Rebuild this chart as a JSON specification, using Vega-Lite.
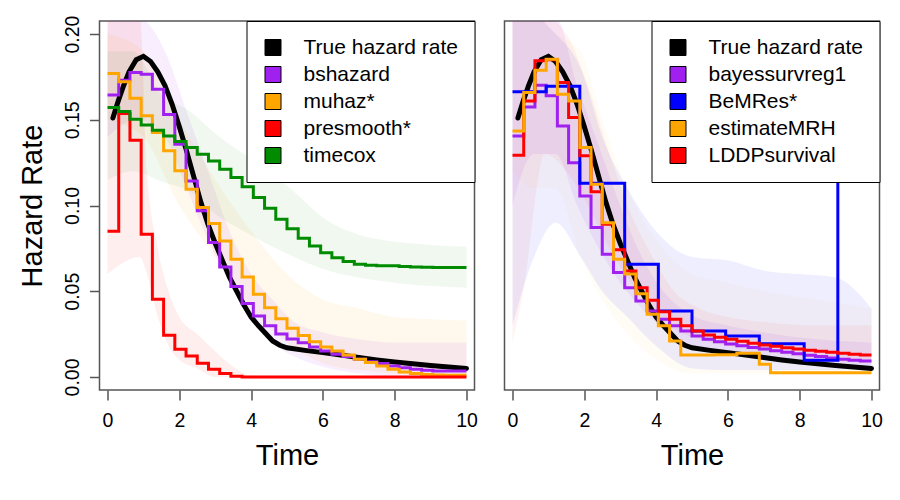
{
"$schema": "https://vega.github.io/schema/vega-lite/v6.json",
"background": "white",
"padding": {"left": 17.5, "top": 14, "right": 5, "bottom": 5},
"config": {
  "font": "Liberation Sans",
  "view": {"stroke": "#555555", "strokeWidth": 1.5},
  "axis": {"grid": false, "domain": false, "tickColor": "#555555", "tickWidth": 1.5, "tickSize": 10, "labelFontSize": 19.5, "labelColor": "black", "titleFontSize": 29, "titleFontWeight": "normal", "titleColor": "black", "labelFont": "Liberation Sans", "titleFont": "Liberation Sans"},
  "legend": {"title": null, "orient": "top-right", "offset": 0, "fillColor": "white", "strokeColor": "black", "strokeWidth": 1, "padding": 16, "symbolType": "square", "symbolSize": 256, "symbolStrokeColor": "black", "symbolStrokeWidth": 1, "symbolOpacity": 1, "labelFontSize": 21, "labelFont": "Liberation Sans", "labelColor": "black", "labelOffset": 20, "rowPadding": 5, "labelLimit": 400}
},
"datasets": {
  "truth": [
    {"t":0.15,"h":0.151},{"t":0.3,"h":0.161},{"t":0.45,"h":0.17},{"t":0.6,"h":0.178},{"t":0.8,"h":0.185},{"t":1.0,"h":0.187},{"t":1.2,"h":0.184},{"t":1.4,"h":0.178},{"t":1.6,"h":0.17},{"t":1.8,"h":0.159},{"t":2.0,"h":0.146},{"t":2.2,"h":0.132},{"t":2.4,"h":0.117},{"t":2.6,"h":0.102},{"t":2.8,"h":0.089},{"t":3.0,"h":0.078},{"t":3.2,"h":0.068},{"t":3.4,"h":0.058},{"t":3.6,"h":0.05},{"t":3.8,"h":0.042},{"t":4.0,"h":0.035},{"t":4.2,"h":0.03},{"t":4.4,"h":0.0255},{"t":4.6,"h":0.021},{"t":4.8,"h":0.0185},{"t":5.0,"h":0.017},{"t":5.5,"h":0.0155},{"t":6.0,"h":0.0142},{"t":6.5,"h":0.0128},{"t":7.0,"h":0.0113},{"t":7.5,"h":0.0099},{"t":8.0,"h":0.0087},{"t":8.5,"h":0.0077},{"t":9.0,"h":0.0067},{"t":9.5,"h":0.0058},{"t":10,"h":0.005}
  ],
  "leftSteps": [
    {"s":"bshazard","t":0,"h":0.1645},{"s":"bshazard","t":0.3125,"h":0.173},{"s":"bshazard","t":0.625,"h":0.1776},{"s":"bshazard","t":0.9375,"h":0.1766},{"s":"bshazard","t":1.25,"h":0.1678},{"s":"bshazard","t":1.5625,"h":0.153},{"s":"bshazard","t":1.875,"h":0.1357},{"s":"bshazard","t":2.1875,"h":0.1143},{"s":"bshazard","t":2.5,"h":0.0969},{"s":"bshazard","t":2.8125,"h":0.0784},{"s":"bshazard","t":3.125,"h":0.0642},{"s":"bshazard","t":3.4375,"h":0.0527},{"s":"bshazard","t":3.75,"h":0.0428},{"s":"bshazard","t":4.0625,"h":0.0356},{"s":"bshazard","t":4.375,"h":0.0298},{"s":"bshazard","t":4.6875,"h":0.0251},{"s":"bshazard","t":5,"h":0.0222},{"s":"bshazard","t":5.3125,"h":0.02},{"s":"bshazard","t":5.625,"h":0.0175},{"s":"bshazard","t":5.9375,"h":0.0152},{"s":"bshazard","t":6.25,"h":0.0132},{"s":"bshazard","t":6.5625,"h":0.0119},{"s":"bshazard","t":6.875,"h":0.0103},{"s":"bshazard","t":7.1875,"h":0.0089},{"s":"bshazard","t":7.5,"h":0.0078},{"s":"bshazard","t":7.8125,"h":0.0064},{"s":"bshazard","t":8.125,"h":0.0054},{"s":"bshazard","t":8.4375,"h":0.0045},{"s":"bshazard","t":8.75,"h":0.0039},{"s":"bshazard","t":9.0625,"h":0.0035},{"s":"bshazard","t":10,"h":0.0035},
    {"s":"muhaz*","t":0,"h":0.177},{"s":"muhaz*","t":0.3125,"h":0.1721},{"s":"muhaz*","t":0.625,"h":0.1626},{"s":"muhaz*","t":0.9375,"h":0.1523},{"s":"muhaz*","t":1.25,"h":0.1426},{"s":"muhaz*","t":1.5625,"h":0.1319},{"s":"muhaz*","t":1.875,"h":0.1202},{"s":"muhaz*","t":2.1875,"h":0.1095},{"s":"muhaz*","t":2.5,"h":0.0988},{"s":"muhaz*","t":2.8125,"h":0.0895},{"s":"muhaz*","t":3.125,"h":0.0793},{"s":"muhaz*","t":3.4375,"h":0.0687},{"s":"muhaz*","t":3.75,"h":0.0583},{"s":"muhaz*","t":4.0625,"h":0.0482},{"s":"muhaz*","t":4.375,"h":0.0404},{"s":"muhaz*","t":4.6875,"h":0.034},{"s":"muhaz*","t":5,"h":0.0284},{"s":"muhaz*","t":5.3125,"h":0.0242},{"s":"muhaz*","t":5.625,"h":0.0206},{"s":"muhaz*","t":5.9375,"h":0.0175},{"s":"muhaz*","t":6.25,"h":0.0152},{"s":"muhaz*","t":6.5625,"h":0.0128},{"s":"muhaz*","t":6.875,"h":0.0103},{"s":"muhaz*","t":7.1875,"h":0.0084},{"s":"muhaz*","t":7.5,"h":0.0064},{"s":"muhaz*","t":7.8125,"h":0.0045},{"s":"muhaz*","t":8.125,"h":0.0029},{"s":"muhaz*","t":8.4375,"h":0.002},{"s":"muhaz*","t":8.75,"h":0.0014},{"s":"muhaz*","t":9.0625,"h":0.0012},{"s":"muhaz*","t":9.375,"h":0.001},{"s":"muhaz*","t":10,"h":0.001},
    {"s":"presmooth*","t":0,"h":0.085},{"s":"presmooth*","t":0.3125,"h":0.1536},{"s":"presmooth*","t":0.625,"h":0.138},{"s":"presmooth*","t":0.9375,"h":0.0832},{"s":"presmooth*","t":1.25,"h":0.0453},{"s":"presmooth*","t":1.5625,"h":0.0243},{"s":"presmooth*","t":1.875,"h":0.0161},{"s":"presmooth*","t":2.1875,"h":0.0122},{"s":"presmooth*","t":2.5,"h":0.008},{"s":"presmooth*","t":2.8125,"h":0.0045},{"s":"presmooth*","t":3.125,"h":0.002},{"s":"presmooth*","t":3.4375,"h":0.0004},{"s":"presmooth*","t":3.75,"h":0},{"s":"presmooth*","t":10,"h":0},
    {"s":"timecox","t":0,"h":0.1571},{"s":"timecox","t":0.3125,"h":0.1548},{"s":"timecox","t":0.625,"h":0.1503},{"s":"timecox","t":0.9375,"h":0.147},{"s":"timecox","t":1.25,"h":0.1439},{"s":"timecox","t":1.5625,"h":0.1406},{"s":"timecox","t":1.875,"h":0.1373},{"s":"timecox","t":2.1875,"h":0.1338},{"s":"timecox","t":2.5,"h":0.1299},{"s":"timecox","t":2.8125,"h":0.126},{"s":"timecox","t":3.125,"h":0.1211},{"s":"timecox","t":3.4375,"h":0.1163},{"s":"timecox","t":3.75,"h":0.111},{"s":"timecox","t":4.0625,"h":0.1046},{"s":"timecox","t":4.375,"h":0.0984},{"s":"timecox","t":4.6875,"h":0.092},{"s":"timecox","t":5,"h":0.0864},{"s":"timecox","t":5.3125,"h":0.0809},{"s":"timecox","t":5.625,"h":0.0764},{"s":"timecox","t":5.9375,"h":0.0725},{"s":"timecox","t":6.25,"h":0.0696},{"s":"timecox","t":6.5625,"h":0.0673},{"s":"timecox","t":6.875,"h":0.0657},{"s":"timecox","t":7.1875,"h":0.0652},{"s":"timecox","t":7.5,"h":0.0648},{"s":"timecox","t":8.125,"h":0.0644},{"s":"timecox","t":8.4375,"h":0.0642},{"s":"timecox","t":8.75,"h":0.064},{"s":"timecox","t":9.0625,"h":0.0638},{"s":"timecox","t":10,"h":0.0638}
  ],
  "rightSteps": [
    {"s":"bayessurvreg1","t":0,"h":0.1406},{"s":"bayessurvreg1","t":0.3125,"h":0.1575},{"s":"bayessurvreg1","t":0.625,"h":0.1702},{"s":"bayessurvreg1","t":0.9375,"h":0.164},{"s":"bayessurvreg1","t":1.25,"h":0.1464},{"s":"bayessurvreg1","t":1.5625,"h":0.125},{"s":"bayessurvreg1","t":1.875,"h":0.1056},{"s":"bayessurvreg1","t":2.1875,"h":0.0871},{"s":"bayessurvreg1","t":2.5,"h":0.0716},{"s":"bayessurvreg1","t":2.8125,"h":0.0609},{"s":"bayessurvreg1","t":3.125,"h":0.0521},{"s":"bayessurvreg1","t":3.4375,"h":0.0443},{"s":"bayessurvreg1","t":3.75,"h":0.0385},{"s":"bayessurvreg1","t":4.0625,"h":0.0337},{"s":"bayessurvreg1","t":4.375,"h":0.0298},{"s":"bayessurvreg1","t":4.6875,"h":0.0268},{"s":"bayessurvreg1","t":5,"h":0.0239},{"s":"bayessurvreg1","t":5.3125,"h":0.022},{"s":"bayessurvreg1","t":5.625,"h":0.0205},{"s":"bayessurvreg1","t":5.9375,"h":0.0193},{"s":"bayessurvreg1","t":6.25,"h":0.0182},{"s":"bayessurvreg1","t":6.5625,"h":0.0172},{"s":"bayessurvreg1","t":6.875,"h":0.0163},{"s":"bayessurvreg1","t":7.1875,"h":0.0153},{"s":"bayessurvreg1","t":7.5,"h":0.0144},{"s":"bayessurvreg1","t":7.8125,"h":0.0135},{"s":"bayessurvreg1","t":8.125,"h":0.0127},{"s":"bayessurvreg1","t":8.4375,"h":0.0119},{"s":"bayessurvreg1","t":8.75,"h":0.0111},{"s":"bayessurvreg1","t":9.0625,"h":0.0104},{"s":"bayessurvreg1","t":9.375,"h":0.0098},{"s":"bayessurvreg1","t":9.6875,"h":0.0093},{"s":"bayessurvreg1","t":10,"h":0.0093},
    {"s":"BeMRes*","t":0,"h":0.1663},{"s":"BeMRes*","t":0.9375,"h":0.1695},{"s":"BeMRes*","t":1.875,"h":0.113},{"s":"BeMRes*","t":3.125,"h":0.0657},{"s":"BeMRes*","t":4.0625,"h":0.0385},{"s":"BeMRes*","t":5,"h":0.0268},{"s":"BeMRes*","t":5.9375,"h":0.0239},{"s":"BeMRes*","t":6.875,"h":0.0194},{"s":"BeMRes*","t":8.125,"h":0.0097},{"s":"BeMRes*","t":9.0625,"h":0.15},{"s":"BeMRes*","t":10,"h":0.15},
    {"s":"LDDPsurvival","t":0,"h":0.1293},{"s":"LDDPsurvival","t":0.3125,"h":0.161},{"s":"LDDPsurvival","t":0.625,"h":0.1844},{"s":"LDDPsurvival","t":0.9375,"h":0.185},{"s":"LDDPsurvival","t":1.25,"h":0.1717},{"s":"LDDPsurvival","t":1.5625,"h":0.1513},{"s":"LDDPsurvival","t":1.875,"h":0.129},{"s":"LDDPsurvival","t":2.1875,"h":0.108},{"s":"LDDPsurvival","t":2.5,"h":0.089},{"s":"LDDPsurvival","t":2.8125,"h":0.0742},{"s":"LDDPsurvival","t":3.125,"h":0.0618},{"s":"LDDPsurvival","t":3.4375,"h":0.0521},{"s":"LDDPsurvival","t":3.75,"h":0.0447},{"s":"LDDPsurvival","t":4.0625,"h":0.0381},{"s":"LDDPsurvival","t":4.375,"h":0.0337},{"s":"LDDPsurvival","t":4.6875,"h":0.0298},{"s":"LDDPsurvival","t":5,"h":0.0268},{"s":"LDDPsurvival","t":5.3125,"h":0.0245},{"s":"LDDPsurvival","t":5.625,"h":0.0232},{"s":"LDDPsurvival","t":5.9375,"h":0.022},{"s":"LDDPsurvival","t":6.25,"h":0.0208},{"s":"LDDPsurvival","t":6.5625,"h":0.0197},{"s":"LDDPsurvival","t":6.875,"h":0.0187},{"s":"LDDPsurvival","t":7.1875,"h":0.0179},{"s":"LDDPsurvival","t":7.5,"h":0.0171},{"s":"LDDPsurvival","t":7.8125,"h":0.0163},{"s":"LDDPsurvival","t":8.125,"h":0.0156},{"s":"LDDPsurvival","t":8.4375,"h":0.015},{"s":"LDDPsurvival","t":8.75,"h":0.0144},{"s":"LDDPsurvival","t":9.0625,"h":0.0138},{"s":"LDDPsurvival","t":9.375,"h":0.0133},{"s":"LDDPsurvival","t":9.6875,"h":0.0128},{"s":"LDDPsurvival","t":10,"h":0.0128},
    {"s":"estimateMRH","t":0,"h":0.1435},{"s":"estimateMRH","t":0.3125,"h":0.1659},{"s":"estimateMRH","t":0.625,"h":0.1789},{"s":"estimateMRH","t":0.9375,"h":0.1853},{"s":"estimateMRH","t":1.25,"h":0.1649},{"s":"estimateMRH","t":1.5625,"h":0.161},{"s":"estimateMRH","t":1.875,"h":0.1338},{"s":"estimateMRH","t":2.1875,"h":0.1124},{"s":"estimateMRH","t":2.5,"h":0.09},{"s":"estimateMRH","t":2.8125,"h":0.0686},{"s":"estimateMRH","t":3.125,"h":0.06},{"s":"estimateMRH","t":3.4375,"h":0.0486},{"s":"estimateMRH","t":3.75,"h":0.0366},{"s":"estimateMRH","t":4.0625,"h":0.0298},{"s":"estimateMRH","t":4.375,"h":0.021},{"s":"estimateMRH","t":4.6875,"h":0.0128},{"s":"estimateMRH","t":5.625,"h":0.013},{"s":"estimateMRH","t":6.25,"h":0.0138},{"s":"estimateMRH","t":6.875,"h":0.0074},{"s":"estimateMRH","t":7.1875,"h":0.0025},{"s":"estimateMRH","t":10,"h":0.0025}
  ],
  "leftBands": [
    {"s":"bshazard","t":0,"lo":0.14,"hi":0.21},{"s":"bshazard","t":0.8,"lo":0.15,"hi":0.21},{"s":"bshazard","t":1.6,"lo":0.14,"hi":0.19},{"s":"bshazard","t":2.2,"lo":0.11,"hi":0.155},{"s":"bshazard","t":2.8,"lo":0.08,"hi":0.12},{"s":"bshazard","t":3.4,"lo":0.055,"hi":0.085},{"s":"bshazard","t":4.0,"lo":0.035,"hi":0.06},{"s":"bshazard","t":4.6,"lo":0.02,"hi":0.045},{"s":"bshazard","t":5.2,"lo":0.012,"hi":0.032},{"s":"bshazard","t":6.0,"lo":0.006,"hi":0.026},{"s":"bshazard","t":7.0,"lo":0.002,"hi":0.022},{"s":"bshazard","t":8.0,"lo":0,"hi":0.02},{"s":"bshazard","t":10,"lo":0,"hi":0.02},
    {"s":"muhaz*","t":0,"lo":0.15,"hi":0.2},{"s":"muhaz*","t":1.0,"lo":0.14,"hi":0.19},{"s":"muhaz*","t":2.0,"lo":0.1,"hi":0.15},{"s":"muhaz*","t":3.0,"lo":0.07,"hi":0.115},{"s":"muhaz*","t":4.0,"lo":0.04,"hi":0.085},{"s":"muhaz*","t":5.0,"lo":0.02,"hi":0.06},{"s":"muhaz*","t":6.0,"lo":0.008,"hi":0.045},{"s":"muhaz*","t":7.0,"lo":0.004,"hi":0.04},{"s":"muhaz*","t":8.0,"lo":0.002,"hi":0.035},{"s":"muhaz*","t":10,"lo":0,"hi":0.033},
    {"s":"presmooth*","t":0,"lo":0.06,"hi":0.21},{"s":"presmooth*","t":0.9,"lo":0.07,"hi":0.21},{"s":"presmooth*","t":1.1,"lo":0.06,"hi":0.12},{"s":"presmooth*","t":1.4,"lo":0.035,"hi":0.075},{"s":"presmooth*","t":1.7,"lo":0.018,"hi":0.05},{"s":"presmooth*","t":2.0,"lo":0.01,"hi":0.035},{"s":"presmooth*","t":2.5,"lo":0.005,"hi":0.025},{"s":"presmooth*","t":3.0,"lo":0,"hi":0.015},{"s":"presmooth*","t":3.5,"lo":0,"hi":0.006},{"s":"presmooth*","t":4.0,"lo":0,"hi":0.001},{"s":"presmooth*","t":10,"lo":0,"hi":0},
    {"s":"timecox","t":0,"lo":0.115,"hi":0.19},{"s":"timecox","t":0.7,"lo":0.12,"hi":0.19},{"s":"timecox","t":1.5,"lo":0.114,"hi":0.165},{"s":"timecox","t":2.3,"lo":0.108,"hi":0.155},{"s":"timecox","t":3.0,"lo":0.095,"hi":0.142},{"s":"timecox","t":3.8,"lo":0.085,"hi":0.13},{"s":"timecox","t":4.5,"lo":0.077,"hi":0.12},{"s":"timecox","t":5.2,"lo":0.07,"hi":0.108},{"s":"timecox","t":6.0,"lo":0.063,"hi":0.093},{"s":"timecox","t":7.0,"lo":0.058,"hi":0.083},{"s":"timecox","t":8.0,"lo":0.055,"hi":0.079},{"s":"timecox","t":9.0,"lo":0.053,"hi":0.077},{"s":"timecox","t":10,"lo":0.052,"hi":0.076}
  ],
  "rightBands": [
    {"s":"bayessurvreg1","t":0,"lo":0.1,"hi":0.21},{"s":"bayessurvreg1","t":0.6,"lo":0.13,"hi":0.21},{"s":"bayessurvreg1","t":1.2,"lo":0.13,"hi":0.21},{"s":"bayessurvreg1","t":1.8,"lo":0.1,"hi":0.17},{"s":"bayessurvreg1","t":2.4,"lo":0.075,"hi":0.135},{"s":"bayessurvreg1","t":3.0,"lo":0.055,"hi":0.1},{"s":"bayessurvreg1","t":3.6,"lo":0.04,"hi":0.07},{"s":"bayessurvreg1","t":4.2,"lo":0.028,"hi":0.05},{"s":"bayessurvreg1","t":5.0,"lo":0.018,"hi":0.036},{"s":"bayessurvreg1","t":6.0,"lo":0.013,"hi":0.03},{"s":"bayessurvreg1","t":7.0,"lo":0.01,"hi":0.026},{"s":"bayessurvreg1","t":8.5,"lo":0.007,"hi":0.022},{"s":"bayessurvreg1","t":10,"lo":0.005,"hi":0.02},
    {"s":"BeMRes*","t":0,"lo":0.03,"hi":0.21},{"s":"BeMRes*","t":0.6,"lo":0.07,"hi":0.21},{"s":"BeMRes*","t":1.2,"lo":0.09,"hi":0.2},{"s":"BeMRes*","t":1.9,"lo":0.07,"hi":0.18},{"s":"BeMRes*","t":2.5,"lo":0.05,"hi":0.14},{"s":"BeMRes*","t":3.2,"lo":0.035,"hi":0.11},{"s":"BeMRes*","t":4.0,"lo":0.018,"hi":0.085},{"s":"BeMRes*","t":5.0,"lo":0.005,"hi":0.07},{"s":"BeMRes*","t":6.0,"lo":0.004,"hi":0.068},{"s":"BeMRes*","t":7.0,"lo":0.004,"hi":0.062},{"s":"BeMRes*","t":8.0,"lo":0.004,"hi":0.06},{"s":"BeMRes*","t":9.0,"lo":0.004,"hi":0.058},{"s":"BeMRes*","t":10,"lo":0.005,"hi":0.04},
    {"s":"LDDPsurvival","t":0,"lo":0.02,"hi":0.21},{"s":"LDDPsurvival","t":0.3,"lo":0.05,"hi":0.21},{"s":"LDDPsurvival","t":0.9,"lo":0.13,"hi":0.21},{"s":"LDDPsurvival","t":1.5,"lo":0.12,"hi":0.2},{"s":"LDDPsurvival","t":2.1,"lo":0.1,"hi":0.17},{"s":"LDDPsurvival","t":2.7,"lo":0.075,"hi":0.13},{"s":"LDDPsurvival","t":3.3,"lo":0.055,"hi":0.095},{"s":"LDDPsurvival","t":3.9,"lo":0.038,"hi":0.07},{"s":"LDDPsurvival","t":4.5,"lo":0.028,"hi":0.05},{"s":"LDDPsurvival","t":5.2,"lo":0.022,"hi":0.04},{"s":"LDDPsurvival","t":6.0,"lo":0.018,"hi":0.035},{"s":"LDDPsurvival","t":7.0,"lo":0.015,"hi":0.032},{"s":"LDDPsurvival","t":8.5,"lo":0.01,"hi":0.03},{"s":"LDDPsurvival","t":10,"lo":0.008,"hi":0.03},
    {"s":"estimateMRH","t":0,"lo":0.12,"hi":0.21},{"s":"estimateMRH","t":0.6,"lo":0.11,"hi":0.21},{"s":"estimateMRH","t":1.2,"lo":0.11,"hi":0.2},{"s":"estimateMRH","t":1.9,"lo":0.07,"hi":0.19},{"s":"estimateMRH","t":2.5,"lo":0.045,"hi":0.15},{"s":"estimateMRH","t":3.2,"lo":0.025,"hi":0.11},{"s":"estimateMRH","t":4.0,"lo":0.01,"hi":0.08},{"s":"estimateMRH","t":5.0,"lo":0.002,"hi":0.06},{"s":"estimateMRH","t":6.0,"lo":0.002,"hi":0.055},{"s":"estimateMRH","t":7.0,"lo":0.002,"hi":0.05},{"s":"estimateMRH","t":8.5,"lo":0.002,"hi":0.045},{"s":"estimateMRH","t":10,"lo":0.002,"hi":0.04}
  ]
},
"spacing": 30,
"bounds": "flush",
"resolve": {"scale": {"fill": "independent", "stroke": "independent", "color": "independent", "opacity": "independent"}, "legend": {"fill": "independent"}},
"hconcat": [
  {
    "width": 375, "height": 369,
    "encoding": {
      "x": {"field": "t", "type": "quantitative", "title": "Time", "scale": {"domain": [-0.223, 10.223], "nice": false, "zero": false}, "axis": {"values": [0,2,4,6,8,10], "labelPadding": 11, "titlePadding": 12, "labelFlush": false, "labelOverlap": false}},
      "y": {"field": "h", "type": "quantitative", "title": "Hazard Rate", "scale": {"domain": [-0.0076, 0.2076], "nice": false, "zero": false}, "axis": {"values": [0,0.05,0.1,0.15,0.2], "format": ".2f", "labelAngle": 270, "labelAlign": "center", "labelBaseline": "bottom", "labelPadding": 7.5, "titlePadding": 14.5, "labelFlush": false, "labelOverlap": false}}
    },
    "layer": [
      {
        "data": {"name": "leftBands"},
        "mark": {"type": "area", "interpolate": "monotone", "clip": true},
        "encoding": {
          "y": {"field": "lo", "type": "quantitative", "title": "Hazard Rate", "scale": {"domain": [-0.0076, 0.2076], "nice": false, "zero": false}, "axis": {"values": [0,0.05,0.1,0.15,0.2], "format": ".2f", "labelAngle": 270, "labelAlign": "center", "labelBaseline": "bottom", "labelPadding": 7.5, "titlePadding": 14.5, "labelFlush": false, "labelOverlap": false}},
          "y2": {"field": "hi"},
          "color": {"field": "s", "type": "nominal", "scale": {"domain": ["bshazard","muhaz*","presmooth*","timecox"], "range": ["#A020F0","#FFA500","#FF0000","#008B00"]}, "legend": null},
          "opacity": {"field": "s", "type": "ordinal", "scale": {"domain": ["bshazard","muhaz*","presmooth*","timecox"], "range": [0.08, 0.06, 0.08, 0.2]}, "legend": null}
        }
      },
      {
        "data": {"name": "truth"},
        "mark": {"type": "line", "color": "black", "strokeWidth": 5, "strokeCap": "round", "clip": true},
        "encoding": {}
      },
      {
        "data": {"name": "leftSteps"},
        "mark": {"type": "line", "interpolate": "step-after", "strokeWidth": 3, "clip": true},
        "encoding": {
          "stroke": {"field": "s", "type": "nominal", "scale": {"domain": ["bshazard","muhaz*","presmooth*","timecox"], "range": ["#A020F0","#FFA500","#FF0000","#008B00"]}, "legend": null}
        }
      },
      {
        "data": {"name": "leftSteps"},
        "transform": [{"filter": "datum.t > 100"}],
        "mark": {"type": "square"},
        "encoding": {
          "fill": {"field": "s", "type": "nominal", "scale": {"domain": ["True hazard rate","bshazard","muhaz*","presmooth*","timecox"], "range": ["black","#A020F0","#FFA500","#FF0000","#008B00"]}, "legend": {"title": null}}
        }
      }
    ]
  },
  {
    "width": 375, "height": 369,
    "encoding": {
      "x": {"field": "t", "type": "quantitative", "title": "Time", "scale": {"domain": [-0.223, 10.223], "nice": false, "zero": false}, "axis": {"values": [0,2,4,6,8,10], "labelPadding": 11, "titlePadding": 12, "labelFlush": false, "labelOverlap": false}},
      "y": {"field": "h", "type": "quantitative", "scale": {"domain": [-0.0076, 0.2076], "nice": false, "zero": false}, "axis": null}
    },
    "layer": [
      {
        "data": {"name": "rightBands"},
        "mark": {"type": "area", "interpolate": "monotone", "clip": true},
        "encoding": {
          "y": {"field": "lo", "type": "quantitative", "scale": {"domain": [-0.0076, 0.2076], "nice": false, "zero": false}, "axis": null},
          "y2": {"field": "hi"},
          "color": {"field": "s", "type": "nominal", "scale": {"domain": ["bayessurvreg1","BeMRes*","LDDPsurvival","estimateMRH"], "range": ["#A020F0","#0000FF","#FF0000","#FFA500"]}, "legend": null},
          "opacity": {"field": "s", "type": "ordinal", "scale": {"domain": ["bayessurvreg1","BeMRes*","LDDPsurvival","estimateMRH"], "range": [0.08, 0.035, 0.09, 0.04]}, "legend": null}
        }
      },
      {
        "data": {"name": "truth"},
        "mark": {"type": "line", "color": "black", "strokeWidth": 5, "strokeCap": "round", "clip": true},
        "encoding": {}
      },
      {
        "data": {"name": "rightSteps"},
        "mark": {"type": "line", "interpolate": "step-after", "strokeWidth": 3, "clip": true},
        "encoding": {
          "stroke": {"field": "s", "type": "nominal", "scale": {"domain": ["bayessurvreg1","BeMRes*","LDDPsurvival","estimateMRH"], "range": ["#A020F0","#0000FF","#FF0000","#FFA500"]}, "legend": null}
        }
      },
      {
        "data": {"name": "rightSteps"},
        "transform": [{"filter": "datum.t > 100"}],
        "mark": {"type": "square"},
        "encoding": {
          "fill": {"field": "s", "type": "nominal", "scale": {"domain": ["True hazard rate","bayessurvreg1","BeMRes*","estimateMRH","LDDPsurvival"], "range": ["black","#A020F0","#0000FF","#FFA500","#FF0000"]}, "legend": {"title": null}}
        }
      }
    ]
  }
]
}
